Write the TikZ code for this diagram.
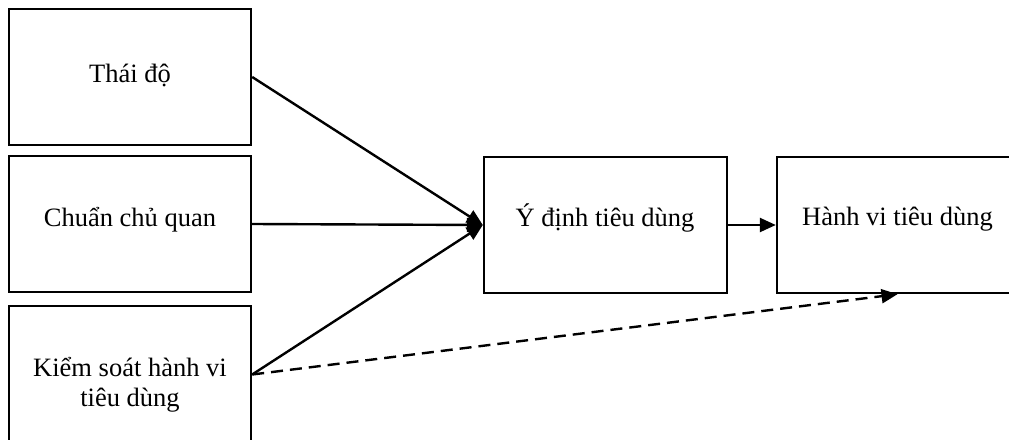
\documentclass[tikz,border=0pt]{standalone}
\usepackage{fontspec}
\setmainfont{Liberation Serif}
\usetikzlibrary{arrows.meta}
\tikzset{
  box/.style={draw=black, line width=2.4pt, rectangle, inner sep=0pt, minimum width=242pt, minimum height=136pt},
  lbl/.style={inner sep=0pt, anchor=base, font=\fontsize{26.5}{29.5}\selectfont, align=center},
  conn/.style={line width=2.4pt, -{Triangle[length=16pt,width=14pt]}},
  dconn/.style={conn, dash pattern=on 12pt off 7pt}
}
\begin{document}
\begin{tikzpicture}[x=1pt,y=-1pt]
\useasboundingbox (0,0) rectangle (1009,439);
\clip (0,0) rectangle (1009,439);
\fill[white] (0,0) rectangle (1009,439);
\node[box] (a) at (130,77) {};
\node[box] (b) at (130,224) {};
\node[box, minimum height=137pt] (c) at (130,374.5) {};
\node[box, minimum width=243pt] (d) at (605.5,225) {};
\node[box, minimum width=241pt] (e) at (897.5,225) {};
\node[lbl] (ta) at (130,82) {Thái độ};
\node[lbl] (tb) at (130,226) {Chuẩn chủ quan};
\node[lbl] (tc) at (130,406) {Kiểm soát hành vi\\tiêu dùng};
\node[lbl] (td) at (605,226) {Ý định tiêu dùng};
\node[lbl] (te) at (897.5,225) {Hành vi tiêu dùng};
\draw[conn] (a.east) -- (d.west);
\draw[conn] (b.east) -- (d.west);
\draw[conn] (c.east) -- (d.west);
\draw[conn] (d.east) -- (e.west);
\draw[dconn] (c.east) -- (e.south);
\end{tikzpicture}
\end{document}
